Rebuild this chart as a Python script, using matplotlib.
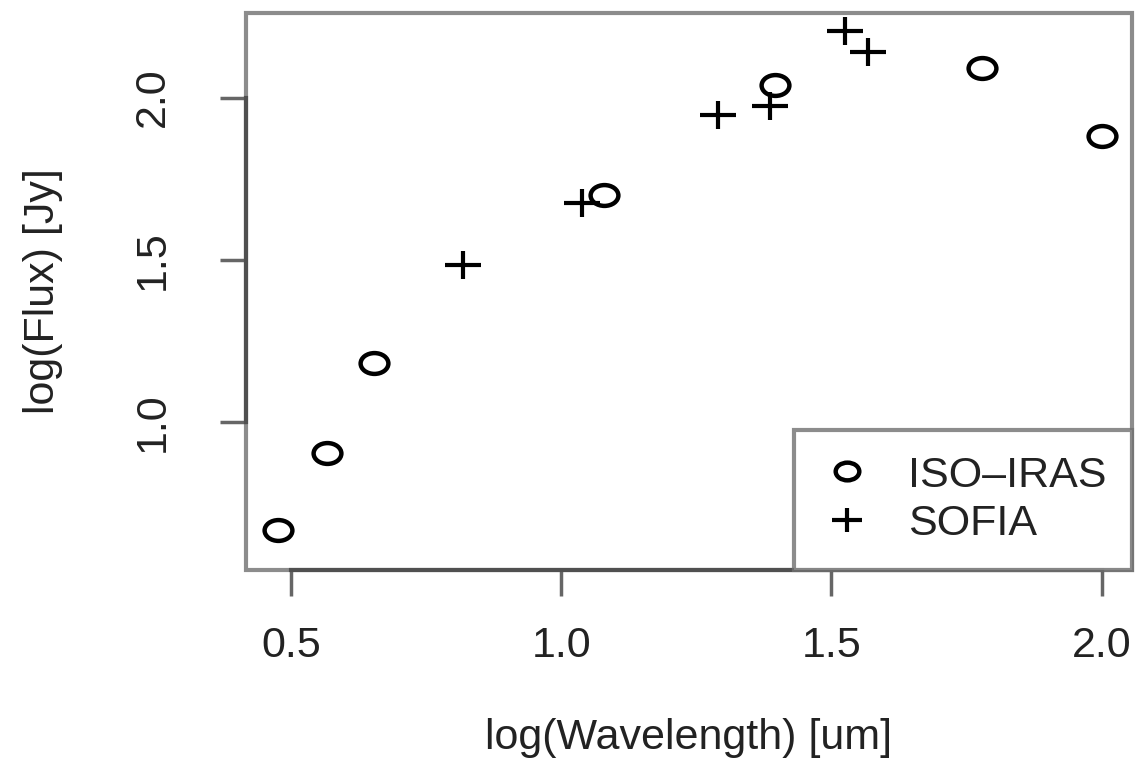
import numpy as np
import matplotlib
matplotlib.use('Agg')
import matplotlib.pyplot as plt
from matplotlib.path import Path
from matplotlib.transforms import Affine2D
from matplotlib.patches import Rectangle

# values
iso_x = [0.477, 0.567, 0.653, 1.080, 1.396, 1.778, 2.000]
iso_y = [0.667, 0.904, 1.181, 1.700, 2.039, 2.091, 1.882]
sofia_x = [0.819, 1.038, 1.291, 1.387, 1.525, 1.568]
sofia_y = [1.484, 1.674, 1.947, 1.974, 2.204, 2.142]
xticks = [0.5, 1.0, 1.5, 2.0]
yticks = [1.0, 1.5, 2.0]

plt.rcParams['font.family'] = ['Liberation Sans', 'DejaVu Sans']
fs = 31
txt = '#222222'

# the original is a bit stretched sideways, so the markers are too
ring = Path.unit_circle().transformed(Affine2D().scale(1.0, 0.75))
cross = Path([(-1, 0), (1, 0), (0, -0.75), (0, 0.75)],
             [Path.MOVETO, Path.LINETO, Path.MOVETO, Path.LINETO])

fig = plt.figure(figsize=(11.36, 7.62), dpi=100)
ax = fig.add_axes([246/1136, 1-570/762, (1132-246)/1136, (570-13)/762])

ax.plot(iso_x, iso_y, ls='none', marker=ring, ms=20, mfc='none', mec='black',
        mew=3.2, label='ISO\u2013IRAS', clip_on=False)
ax.plot(sofia_x, sofia_y, ls='none', marker=cross, ms=26, mec='black',
        mew=3.0, label='SOFIA', clip_on=False)

ax.set_xlim(0.417, 2.056)
ax.set_ylim(0.543, 2.261)

# R style: grey box, darker axis line only between first and last tick
for s in ['top', 'right']:
    ax.spines[s].set_visible(False)
ax.spines['left'].set_bounds(yticks[0], yticks[-1])
ax.spines['bottom'].set_bounds(xticks[0], xticks[-1])
for s in ['left', 'bottom']:
    ax.spines[s].set_color('#505050')
    ax.spines[s].set_linewidth(3)
ax.add_patch(Rectangle((0, 0), 1, 1, transform=ax.transAxes, fill=False,
                       ec='#8c8c8c', lw=3, clip_on=False, zorder=0.5))

ax.set_xticks(xticks)
ax.set_yticks(yticks)
ax.set_xticklabels(['%.1f' % v for v in xticks])
ax.set_yticklabels(['%.1f' % v for v in yticks])
ax.tick_params(direction='out', length=18.5, width=2.5, color='#666666',
               labelsize=fs, labelcolor=txt)
ax.tick_params(axis='x', pad=22)
ax.tick_params(axis='y', pad=34, labelrotation=90)
for lab in ax.get_yticklabels():
    lab.set_va('center')

ax.set_xlabel('log(Wavelength) [um]', fontsize=fs, color=txt)
ax.xaxis.set_label_coords(0.5, (570-718)/557)
ax.set_ylabel('log(Flux) [Jy]', fontsize=fs, color=txt)
ax.yaxis.set_label_coords((63-246)/886, 0.5)

leg = ax.legend(loc='lower right', fontsize=fs, frameon=True, fancybox=False,
                borderaxespad=0, handlelength=1.3, handletextpad=0.75,
                borderpad=0.6, labelspacing=0.2, markerscale=0.85)
leg.get_frame().set_edgecolor('#707070')
leg.get_frame().set_linewidth(3)
for t in leg.get_texts():
    t.set_color(txt)

fig.savefig('out.png', dpi=100)
